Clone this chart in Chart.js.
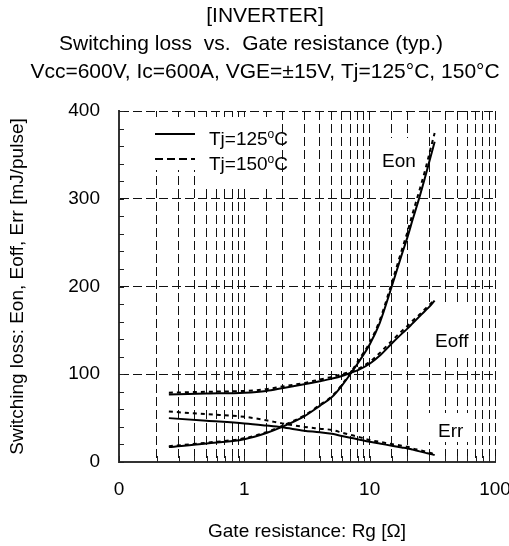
<!DOCTYPE html>
<html>
<head>
<meta charset="utf-8">
<script src="https://cdn.jsdelivr.net/npm/chart.js@4.4.1/dist/chart.umd.min.js"></script>
<style>
  body { margin: 0; background: #fff; }
</style>
</head>
<body>
<canvas id="graficoPerdas" width="509" height="546"></canvas>
<script>
// Dados (Rg em ohm, perdas em mJ/pulse)

const rg = [0.25, 0.5, 1, 1.5, 2, 3, 4, 5, 6, 7, 8, 10, 12, 15, 18, 20, 22, 25, 28, 30, 33];

const eon125 = [17, 21, 26, 33, 40, 52, 64, 74, 87, 100, 112, 134, 158, 200, 236, 256, 276, 302, 327, 343, 365];
const eon150 = [18, 22, 27, 34, 41, 53, 65, 75, 88, 101, 114, 136, 161, 204, 241, 262, 283, 310, 335, 352, 375];

const eoff125 = [77, 78, 79, 81, 84, 88.5, 92, 95, 98, 101.5, 104.5, 112, 121, 135, 146, 152, 158, 166, 173, 177, 184];
const eoff150 = [79, 80, 81, 83, 86, 90, 94, 97, 100, 103, 106, 114, 124, 138, 149, 155, 161, 168, 175, 179, 185];

const err125 = [50, 47, 44, 41.5, 39.5, 35.7, 33.9, 32.1, 29.7, 27.7, 26, 23, 21, 18.6, 16.6, 15.5, 14.1, 12.1, 10.4, 9.4, 7.9];
const err150 = [57.5, 54.5, 51.5, 47.5, 44, 40, 38, 36.5, 33.5, 31, 29, 25, 23, 20.5, 18.5, 17.4, 15.5, 13.5, 11.7, 10.5, 9];

// rótulos do eixo x (0.1 aparece como "0" no original)
const decadas = [0.1, 1, 10, 100];
const decadasTexto = ['0', '1', '10', '100'];

const titulos = [
  '[INVERTER]',
  'Switching loss  vs.  Gate resistance (typ.)',
  'Vcc=600V, Ic=600A, VGE=\u00b115V, Tj=125\u00b0C, 150\u00b0C'
];
const legendaTexto = ['Tj=125', 'Tj=150'];
const nomesCurvas = ['Eon', 'Eoff', 'Err'];

const fonte = "'Liberation Sans', Arial, Helvetica, sans-serif";
Chart.defaults.font.family = fonte;
Chart.defaults.color = '#000';

function pontos(valores) {
  return rg.map((r, i) => ({ x: r, y: valores[i] }));
}

function serie(label, valores, tracejado) {
  return {
    label: label,
    data: pontos(valores),
    borderColor: '#000',
    borderWidth: 2,
    borderDash: tracejado ? [4, 4] : [],
    pointRadius: 0,
    fill: false,
    cubicInterpolationMode: 'monotone'
  };
}

function rotuloX(v) {
  const i = decadas.findIndex(d => Math.abs(v - d) / d < 1e-6);
  return i >= 0 ? decadasTexto[i] : '';
}

// textos, caixas brancas e marcas internas
const extras = {
  id: 'extras',
  beforeDatasetsDraw(chart) {
    const ctx = chart.ctx;
    const area = chart.chartArea;
    const sx = chart.scales.x;
    const sy = chart.scales.y;
    ctx.save();

    // fundo branco da legenda e dos nomes das curvas
    ctx.fillStyle = '#fff';
    ctx.fillRect(150, 117, 50, 53);
    ctx.fillRect(200, 117, 81, 69);
    ctx.fillRect(376, 138, 44, 42);
    ctx.fillRect(428, 303, 42, 51);
    ctx.fillRect(428, 413, 42, 29);

    // marcas pequenas para dentro
    ctx.strokeStyle = '#222';
    ctx.lineWidth = 1;
    ctx.beginPath();
    sy.ticks.forEach(t => {
      const py = Math.round(sy.getPixelForValue(t.value)) + 0.5;
      ctx.moveTo(area.left, py);
      ctx.lineTo(area.left + 5, py);
    });
    sx.ticks.forEach(t => {
      const px = Math.round(sx.getPixelForValue(t.value)) + 0.5;
      ctx.moveTo(px, area.bottom);
      ctx.lineTo(px, area.bottom - 6);
    });
    ctx.stroke();

    // legenda
    const ds = chart.data.datasets;
    [0, 1].forEach(i => {
      const ly = 134 + i * 25;
      ctx.strokeStyle = ds[i].borderColor;
      ctx.lineWidth = 2;
      ctx.setLineDash(i === 0 ? [] : [8, 4]);
      ctx.beginPath();
      ctx.moveTo(155, ly);
      ctx.lineTo(195, ly);
      ctx.stroke();
      ctx.setLineDash([]);

      const base = 145 + i * 25;
      ctx.fillStyle = '#000';
      ctx.textBaseline = 'alphabetic';
      ctx.textAlign = 'left';
      ctx.font = '19px ' + fonte;
      ctx.fillText(legendaTexto[i], 209, base);
      let px = 209 + ctx.measureText(legendaTexto[i]).width;
      ctx.font = '12px ' + fonte;
      ctx.fillText('o', px, base - 7);
      px += ctx.measureText('o').width;
      ctx.font = '19px ' + fonte;
      ctx.fillText('C', px, base);
    });

    // nomes das curvas
    ctx.font = '19px ' + fonte;
    ctx.fillText(nomesCurvas[0], 382, 167);
    ctx.fillText(nomesCurvas[1], 435, 347);
    ctx.fillText(nomesCurvas[2], 438, 437);
    ctx.restore();
  },
  afterDraw(chart) {
    const ctx = chart.ctx;
    ctx.save();
    ctx.fillStyle = '#000';
    ctx.textAlign = 'center';
    ctx.textBaseline = 'alphabetic';
    ctx.font = '21px ' + fonte;
    ctx.fillText(titulos[0], 265, 22);
    ctx.fillText(titulos[1], 251, 50);
    ctx.fillText(titulos[2], 265, 78);
    ctx.restore();
  }
};

const dataPerdas = {
  datasets: [
    serie('Eon Tj=125', eon125, false),
    serie('Eon Tj=150', eon150, true),
    serie('Eoff Tj=125', eoff125, false),
    serie('Eoff Tj=150', eoff150, true),
    serie('Err Tj=125', err125, false),
    serie('Err Tj=150', err150, true)
  ]
};

const configPerdas = {
  type: 'line',
  data: dataPerdas,
  options: {
    responsive: false,
    animation: false,
    layout: { padding: { top: 111, right: 14, left: 0, bottom: 0 } },
    plugins: {
      legend: { display: false },
      tooltip: { enabled: false },
      title: { display: false }
    },
    scales: {
      x: {
        type: 'logarithmic',
        min: 0.1,
        max: 100,
        afterFit(s) { s.height = 84; s.paddingLeft = 0; s.paddingRight = 0; },
        grid: {
          color: c => (c.index === 0 ? 'rgba(0,0,0,0)' : '#111'),
          lineWidth: 1,
          drawTicks: false
        },
        border: { display: true, color: '#333', width: 2, dash: [9, 4] },
        ticks: {
          autoSkip: false,
          maxRotation: 0,
          padding: 16,
          font: { size: 19 },
          callback: v => rotuloX(v)
        },
        title: {
          display: true,
          text: 'Gate resistance: Rg [\u03a9]',
          font: { size: 19 },
          padding: { top: 0, bottom: 3 }
        }
      },
      y: {
        min: 0,
        max: 400,
        afterFit(s) { s.width = 119; s.paddingTop = 0; s.paddingBottom = 0; },
        grid: {
          color: c => (c.tick && c.tick.value % 100 === 0 && c.tick.value !== 0 ? '#111' : 'rgba(0,0,0,0)'),
          lineWidth: 1,
          drawTicks: false
        },
        border: { display: true, color: '#333', width: 2, dash: [9, 4] },
        ticks: {
          autoSkip: false,
          stepSize: 20,
          padding: 19,
          font: { size: 19 },
          callback: v => (v % 100 === 0 ? v : '')
        },
        title: {
          display: true,
          text: 'Switching loss: Eon, Eoff, Err [mJ/pulse]',
          font: { size: 19 },
          padding: { top: 6, bottom: 0 }
        }
      }
    }
  },
  plugins: [extras]
};

const graficoPerdas = new Chart(
  document.getElementById('graficoPerdas'),
  configPerdas
);
</script>
</body>
</html>
